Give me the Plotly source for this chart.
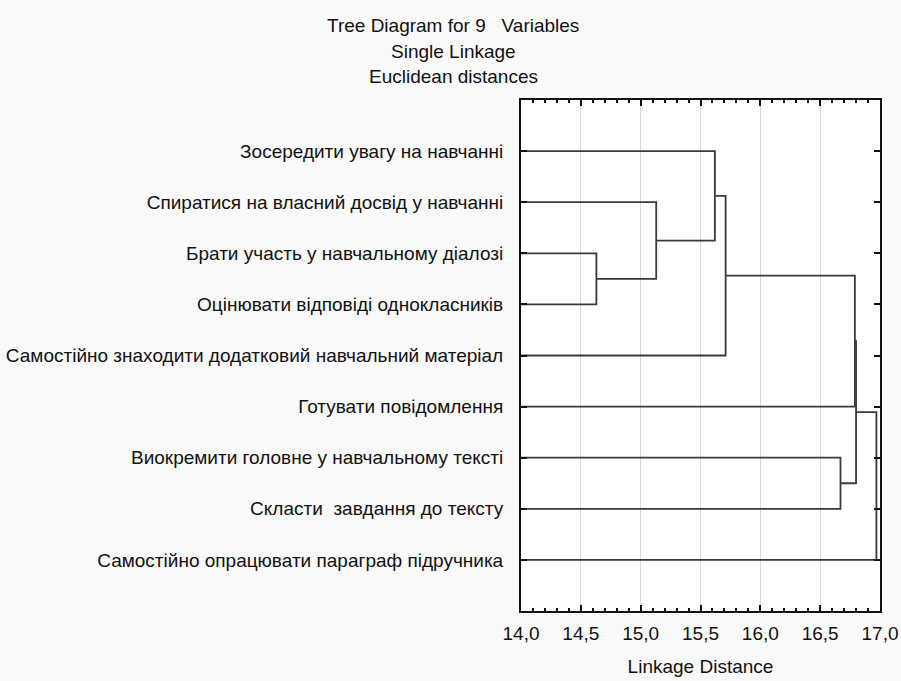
import plotly.graph_objects as go

# Leaves, top to bottom
labels = [
    "Зосередити увагу на навчанні",
    "Спиратися на власний досвід у навчанні",
    "Брати участь у навчальному діалозі",
    "Оцінювати відповіді однокласників",
    "Самостійно знаходити додатковий навчальний матеріал",
    "Готувати повідомлення",
    "Виокремити головне у навчальному тексті",
    "Скласти  завдання до тексту",
    "Самостійно опрацювати параграф підручника",
]
# Merge steps (node ids: leaves 0..8, new nodes 9..)
merge_left = [2, 1, 0, 11, 6, 12, 14, 15]
merge_right = [3, 9, 10, 4, 7, 5, 13, 8]
merge_dist = [14.63, 15.13, 15.62, 15.71, 16.67, 16.79, 16.80, 16.97]

x_ticks = [14.0, 14.5, 15.0, 15.5, 16.0, 16.5, 17.0]
title_lines = ["Tree Diagram for 9   Variables", "Single Linkage", "Euclidean distances"]
x_title = "Linkage Distance"

n = len(labels)
node_y = {i: i + 1 for i in range(n)}
node_x = {i: x_ticks[0] for i in range(n)}
xs, ys = [], []
for k, (a, b, d) in enumerate(zip(merge_left, merge_right, merge_dist)):
    xs += [node_x[a], d, d, node_x[b], None]
    ys += [node_y[a], node_y[a], node_y[b], node_y[b], None]
    nid = n + k
    node_y[nid] = (node_y[a] + node_y[b]) / 2
    node_x[nid] = d

fig = go.Figure()
fig.add_trace(go.Scatter(x=xs, y=ys, mode="lines",
                         line=dict(color="#3a3a3a", width=1.8),
                         hoverinfo="skip", showlegend=False))

font_family = "Liberation Sans, Arial, sans-serif"
fig.update_layout(
    width=901, height=681,
    margin=dict(l=521, r=21, t=100, b=70, autoexpand=False),
    paper_bgcolor="#f9f9f9", plot_bgcolor="white",
    separators=", ",
    font=dict(family=font_family, size=19, color="#111111"),
    showlegend=False,
)
fig.update_xaxes(
    range=[14.0, 17.0], tickvals=x_ticks, tickformat=".1f", automargin=False,
    showgrid=True, gridcolor="#d9d9d9", gridwidth=1,
    zeroline=False, showline=True, linecolor="#111111", linewidth=2,
    mirror="ticks", ticks="inside", ticklen=6, tickwidth=2, tickcolor="#111111",
    minor=dict(dtick=0.1, ticks="inside", ticklen=3, tickwidth=1.5, tickcolor="#111111", showgrid=False),
    tickfont=dict(size=19), ticklabelstandoff=4,
    title=dict(text=x_title, font=dict(size=19), standoff=17),
)
fig.update_yaxes(
    range=[n + 1, 0], tickvals=list(range(1, n + 1)), ticktext=labels, automargin=False,
    showgrid=False, zeroline=False, showline=True, linecolor="#111111", linewidth=2,
    mirror="ticks", ticks="inside", ticklen=6, tickwidth=2, tickcolor="#111111",
    tickfont=dict(size=19), ticklabelstandoff=12,
)
ys_title = [25, 51, 76]
for t, py in zip(title_lines, ys_title):
    fig.add_annotation(text=t, xref="paper", yref="paper",
                       x=(453 - 521) / 359, y=(611.5 - py) / 511.5,
                       xanchor="center", yanchor="middle", showarrow=False,
                       font=dict(size=19, family=font_family, color="#111111"))

fig.write_html("out.html", config={"displayModeBar": False},
               post_script="document.body.style.margin='0';")
